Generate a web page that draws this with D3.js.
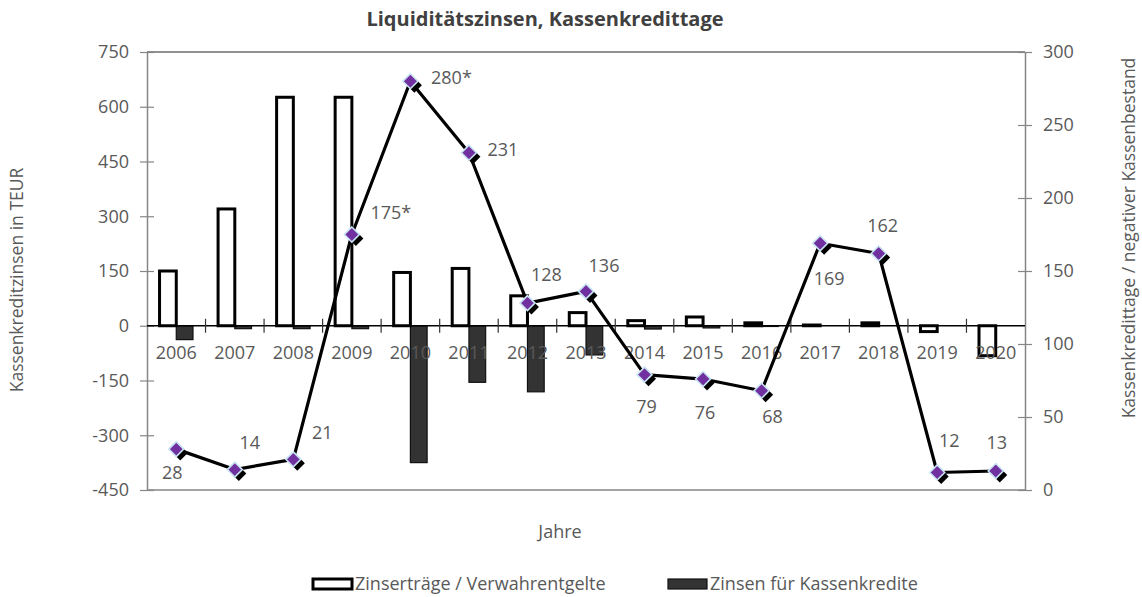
<!DOCTYPE html>
<html>
<head>
<meta charset="utf-8">
<script src="https://cdn.jsdelivr.net/npm/d3@7"></script>
<style>
  html, body { margin: 0; padding: 0; background: #fff; }
  svg { display: block; font-family: "Open Sans", "Noto Sans", sans-serif; }
</style>
</head>
<body>
<svg id="chart" width="1142" height="597"></svg>
<script>
// ---- data ----
const years = ["2006","2007","2008","2009","2010","2011","2012","2013","2014","2015","2016","2017","2018","2019","2020"];
const zinsertraege = [150, 320, 626, 626, 146, 157, 82, 36, 14, 24, 8, 2, 8, -16, -82];
const kassenkreditZinsen = [-38, -8, -8, -8, -375, -155, -181, -80, -9, -6, -2, 0, 0, 0, 0];
const kassenkreditTage = [28, 14, 21, 175, 280, 231, 128, 136, 79, 76, 68, 169, 162, 12, 13];
const tageLabelSuffix = ["", "", "", "*", "*", "", "", "", "", "", "", "", "", "", ""];
const leftTicks = [-450, -300, -150, 0, 150, 300, 450, 600, 750];
const rightTicks = [0, 50, 100, 150, 200, 250, 300];
const seriesNames = ["Zinserträge / Verwahrentgelte", "Zinsen für Kassenkredite"];
const titleText = "Liquiditätszinsen, Kassenkredittage";
const xTitle = "Jahre";
const yLeftTitle = "Kassenkreditzinsen in TEUR";
const yRightTitle = "Kassenkredittage / negativer Kassenbestand";

// ---- layout (label placement relative to markers) ----
const labelOffsets = [[-4,24],[15,-27],[29,-27],[39,-22],[41,-4],[34,-3],[19,-28],[18,-26],[2,32],[2,34],[11,26],[9,35],[4,-28],[12,-32],[1,-28]];

const svg = d3.select("#chart");
const L = 147, R = 1025, T = 52, B = 490;
const textColor = "#595959";
const axisColor = "#868686";
const fs = 18;

const x = d3.scaleBand().domain(years).range([L, R]).padding(0);
const yL = d3.scaleLinear().domain([-450, 750]).range([B, T]);
const yR = d3.scaleLinear().domain([0, 300]).range([B, T]);

svg.append("rect").attr("width", 1142).attr("height", 597).attr("fill", "#fff");

// Title
svg.append("text").attr("x", 545).attr("y", 26).attr("text-anchor", "middle")
  .attr("font-size", 20).attr("font-weight", "bold").attr("fill", "#404040").text(titleText);

// Plot frame top / bottom
svg.append("line").attr("x1", L).attr("x2", R).attr("y1", T).attr("y2", T)
  .attr("stroke", "#222").attr("stroke-width", 1);
svg.append("line").attr("x1", L).attr("x2", R).attr("y1", B).attr("y2", B)
  .attr("stroke", axisColor).attr("stroke-width", 1.5);

// Left axis
const gL = svg.append("g").attr("transform", `translate(${L},0)`)
  .call(d3.axisLeft(yL).tickValues(leftTicks).tickFormat(d => String(d))
    .tickSizeInner(7).tickSizeOuter(0).tickPadding(11));
gL.selectAll(".tick line").attr("x1", 7);
// Right axis
const gR = svg.append("g").attr("transform", `translate(${R},0)`)
  .call(d3.axisRight(yR).tickValues(rightTicks).tickFormat(d => String(d))
    .tickSizeInner(7).tickSizeOuter(0).tickPadding(11));
gR.selectAll(".tick line").attr("x1", -7);
[gL, gR].forEach(g => {
  g.select(".domain").attr("stroke", axisColor).attr("stroke-width", 1.5);
  g.selectAll(".tick line").attr("stroke", axisColor).attr("stroke-width", 1.2);
  g.selectAll(".tick text").attr("fill", textColor).attr("font-size", fs)
    .attr("font-family", "'Open Sans', sans-serif");
});

// Bars
const bw = x.bandwidth() / 3.5;
const cx = d => x(d) + x.bandwidth() / 2;
svg.append("g").selectAll("rect").data(years).join("rect")
  .attr("x", (d) => cx(d))
  .attr("y", (d, i) => Math.min(yL(0), yL(kassenkreditZinsen[i])))
  .attr("width", bw)
  .attr("height", (d, i) => Math.abs(yL(kassenkreditZinsen[i]) - yL(0)))
  .attr("fill", "#333333").attr("stroke", "#111").attr("stroke-width", 1.2);
svg.append("g").selectAll("rect").data(years).join("rect")
  .attr("x", (d) => cx(d) - bw)
  .attr("y", (d, i) => Math.min(yL(0), yL(zinsertraege[i])))
  .attr("width", bw)
  .attr("height", (d, i) => Math.abs(yL(zinsertraege[i]) - yL(0)))
  .attr("fill", "#fff").attr("stroke", "#000").attr("stroke-width", 3);

// Category axis at zero
const y0 = yL(0);
svg.append("line").attr("x1", L).attr("x2", R).attr("y1", y0).attr("y2", y0)
  .attr("stroke", "#000").attr("stroke-width", 1.5);
svg.append("g").selectAll("line").data(years.slice(1)).join("line")
  .attr("x1", d => x(d)).attr("x2", d => x(d))
  .attr("y1", y0 - 7).attr("y2", y0 + 7)
  .attr("stroke", "#333").attr("stroke-width", 1.2);
const gX = svg.append("g").attr("transform", `translate(0,${y0})`)
  .call(d3.axisBottom(x).tickSize(0).tickPadding(20));
gX.select(".domain").remove();
gX.selectAll(".tick text").attr("fill", textColor).attr("font-size", fs)
  .attr("font-family", "'Open Sans', sans-serif");

// Line series
const lineGen = d3.line().x((d, i) => cx(years[i])).y(d => yR(d));
svg.append("path").datum(kassenkreditTage).attr("d", lineGen)
  .attr("fill", "none").attr("stroke", "#000").attr("stroke-width", 3.2)
  .attr("stroke-linejoin", "round");

const diamond = "M0,-7.5L7.5,0L0,7.5L-7.5,0Z";
const mk = svg.append("g").selectAll("g").data(kassenkreditTage).join("g")
  .attr("transform", (d, i) => `translate(${cx(years[i])},${yR(d)})`);
mk.append("path").attr("d", diamond).attr("transform", "translate(4,4)").attr("fill", "#000");
mk.append("path").attr("d", diamond).attr("fill", "#7030A0")
  .attr("stroke", "#c9e4f2").attr("stroke-width", 1.6);

// Data labels
svg.append("g").selectAll("text").data(kassenkreditTage).join("text")
  .attr("x", (d, i) => cx(years[i]) + labelOffsets[i][0])
  .attr("y", (d, i) => yR(d) + labelOffsets[i][1])
  .attr("dy", "0.35em").attr("text-anchor", "middle")
  .attr("font-size", fs).attr("fill", textColor)
  .text((d, i) => d + tageLabelSuffix[i]);

// Axis titles
svg.append("text").attr("x", 560).attr("y", 538).attr("text-anchor", "middle")
  .attr("font-size", fs).attr("fill", textColor).text(xTitle);
svg.append("text").attr("transform", "translate(17,280) rotate(-90)")
  .attr("text-anchor", "middle").attr("dy", "0.35em")
  .attr("font-size", 17.5).attr("fill", textColor).text(yLeftTitle);
svg.append("text").attr("transform", "translate(1129,238) rotate(-90)")
  .attr("text-anchor", "middle").attr("dy", "0.35em")
  .attr("font-size", 17.5).attr("fill", textColor).text(yRightTitle);

// Legend
const legendItems = [
  { name: seriesNames[0], sx: 313, tx: 355, fill: "#fff", stroke: "#000", sw: 3 },
  { name: seriesNames[1], sx: 668, tx: 710, fill: "#333333", stroke: "#111", sw: 1.2 }
];
const lg = svg.append("g").selectAll("g").data(legendItems).join("g");
lg.append("rect").attr("x", d => d.sx).attr("y", 579).attr("width", 39).attr("height", 10)
  .attr("fill", d => d.fill).attr("stroke", d => d.stroke).attr("stroke-width", d => d.sw);
lg.append("text").attr("x", d => d.tx).attr("y", 584).attr("dy", "0.35em")
  .attr("font-size", fs).attr("fill", textColor).text(d => d.name);
</script>
</body>
</html>
